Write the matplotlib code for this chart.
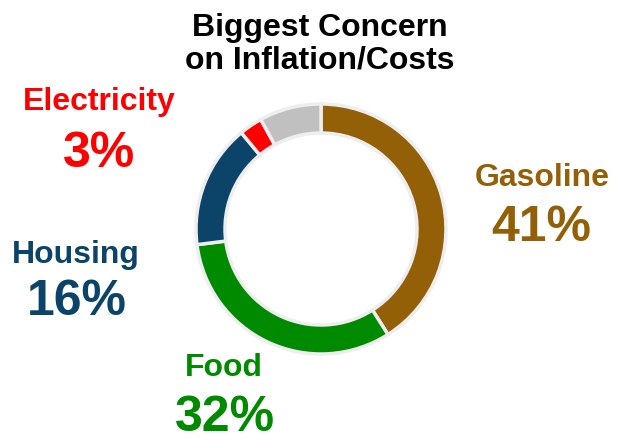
import matplotlib
matplotlib.use("Agg")
import matplotlib.pyplot as plt

plt.rcParams['font.family'] = ['Liberation Sans', 'DejaVu Sans']

# data
categories = ['Gasoline', 'Food', 'Housing', 'Electricity', 'Other']
shares = [41, 32, 16, 3, 8]
colors = ['#935F07', '#008A00', '#0B4468', '#FF0000', '#C0C0C0']
title = 'Biggest Concern\non Inflation/Costs'

# label positions in pixels (x, y from top) for name and percentage
label_pos = {
    'Gasoline': ((542, 178), (541, 228)),
    'Food': ((224, 368), (225, 418)),
    'Housing': ((76, 255), (77, 302)),
    'Electricity': ((99, 102), (99, 154)),
}

W, H = 626, 441
fig = plt.figure(figsize=(W / 100, H / 100), dpi=100)
ax = fig.add_axes([0, 0, 1, 1])

cx, cy = 321, H - 229
ax.pie(shares, colors=colors, startangle=90, counterclock=False,
       center=(cx, cy), radius=125, frame=True,
       wedgeprops=dict(width=29, edgecolor='#EEEEEE', linewidth=2.5))
ax.set_xlim(0, W)
ax.set_ylim(0, H)
ax.set_aspect('equal')
ax.axis('off')

ax.text(320, H - 44, title, ha='center', va='center', fontsize=23,
        fontweight='bold', color='black', linespacing=1.12)

for name, val, col in zip(categories, shares, colors):
    if name not in label_pos:
        continue
    (nx, ny), (px, py) = label_pos[name]
    ax.text(nx, H - ny, name, ha='center', va='center', fontsize=23,
            fontweight='bold', color=col)
    ax.text(px, H - py, f'{val}%', ha='center', va='center', fontsize=36,
            fontweight='bold', color=col)

fig.savefig('out.png', dpi=100)
